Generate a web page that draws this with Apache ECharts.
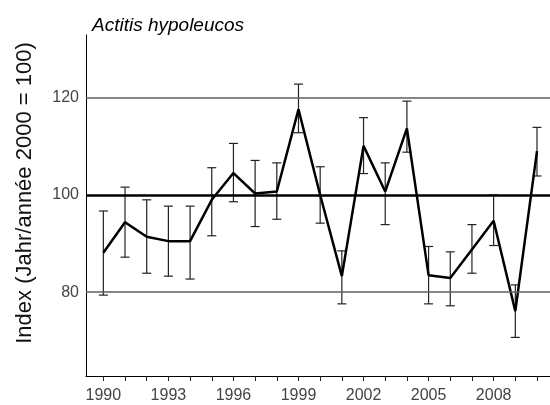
<!DOCTYPE html>
<html>
<head>
<meta charset="utf-8">
<script src="https://cdn.jsdelivr.net/npm/echarts@6/dist/echarts.min.js"></script>
<style>
  html, body { margin: 0; padding: 0; background: #fff; }
  #chart { width: 550px; height: 405px; }
</style>
</head>
<body>
<div id="chart"></div>
<script>
  // years and index values (2000 = 100)
  const years = [1990, 1991, 1992, 1993, 1994, 1995, 1996, 1997, 1998, 1999, 2000,
                 2001, 2002, 2003, 2004, 2005, 2006, 2007, 2008, 2009, 2010]
  const indexValues = [88.1, 94.4, 91.4, 90.5, 90.5, 99.0, 104.5, 100.3, 100.7, 117.6, 100.0,
                       83.3, 110.1, 100.7, 113.7, 83.5, 82.9, 88.8, 94.7, 76.1, 109.0]
  // error bars: lower and upper ends
  const lowerValues = [79.4, 87.2, 83.9, 83.3, 82.7, 91.6, 98.6, 93.5, 95.0, 112.8, 94.2,
                       77.6, 104.4, 93.9, 108.8, 77.6, 77.2, 83.9, 89.6, 70.7, 103.9]
  const upperValues = [96.7, 101.6, 99.0, 97.7, 97.7, 105.6, 110.6, 107.1, 106.6, 122.8, 105.8,
                       88.5, 115.9, 106.6, 119.3, 89.4, 88.3, 93.9, 100.0, 81.5, 113.9]
  // tick labels
  const xLabelYears = [1990, 1993, 1996, 1999, 2002, 2005, 2008]
  const yLabelValues = [80, 100, 120]
  const gridValues = [80, 120]
  const baseValue = 100

  const chart = echarts.init(document.getElementById('chart'))

  const lineData = years.map((y, i) => [y, indexValues[i]])
  const errData = years.map((y, i) => [y, lowerValues[i], upperValues[i]])

  const font = '"Liberation Sans", Arial, sans-serif'

  const option = {
    animation: false,
    backgroundColor: '#fff',
    textStyle: { fontFamily: font },
    title: {
      text: 'Actitis hypoleucos',
      left: 87,
      top: 11,
      textStyle: { fontSize: 19, fontStyle: 'italic', fontWeight: 'normal', color: '#000', fontFamily: font }
    },
    //纵轴标题单独画，位置好调
    graphic: [{
      type: 'text',
      x: 25,
      y: 193,
      rotation: Math.PI / 2,
      style: {
        text: 'Index (Jahr/année 2000 = 100)',
        font: '22px ' + font,
        fill: '#111',
        textAlign: 'center',
        textVerticalAlign: 'middle'
      }
    }],
    grid: { left: 86, right: 0, top: 35, bottom: 29, containLabel: false },
    xAxis: {
      type: 'value',
      min: 1989.2,
      max: 2010.6,
      splitLine: { show: false },
      axisLine: { lineStyle: { color: '#000', width: 1 } },
      axisTick: { show: true, customValues: years, length: 5, lineStyle: { color: '#222' } },
      axisLabel: {
        customValues: xLabelYears,
        formatter: v => String(v),
        fontSize: 16, color: '#444', margin: 12, fontFamily: font
      }
    },
    yAxis: {
      type: 'value',
      min: 62.76,
      max: 132.9,
      splitLine: { show: false },
      axisLine: { show: true, lineStyle: { color: '#000', width: 1 } },
      axisTick: { show: false },
      axisLabel: { customValues: yLabelValues, fontSize: 16, color: '#444', margin: 7, fontFamily: font }
    },
    series: [
      {
        // error bars
        type: 'custom',
        silent: true,
        z: 2,
        data: errData,
        renderItem(params, api) {
          const x = api.value(0)
          const lo = api.coord([x, api.value(1)])
          const hi = api.coord([x, api.value(2)])
          const cap = 4.5
          const st = { stroke: '#222', lineWidth: 1.2 }
          return {
            type: 'group',
            children: [
              { type: 'line', shape: { x1: lo[0], y1: lo[1], x2: hi[0], y2: hi[1] }, style: st },
              { type: 'line', shape: { x1: lo[0] - cap, y1: lo[1], x2: lo[0] + cap, y2: lo[1] }, style: st },
              { type: 'line', shape: { x1: hi[0] - cap, y1: hi[1], x2: hi[0] + cap, y2: hi[1] }, style: st }
            ]
          }
        }
      },
      {
        type: 'line',
        z: 3,
        data: lineData,
        symbol: 'none',
        lineStyle: { color: '#000', width: 2.5 },
        markLine: {
          silent: true,
          symbol: 'none',
          label: { show: false },
          data: gridValues.map(v => ({ yAxis: v, lineStyle: { color: '#5e5e5e', width: 1.5, type: 'solid' } }))
            .concat([{ yAxis: baseValue, lineStyle: { color: '#000', width: 2.5, type: 'solid' } }])
        }
      }
    ]
  }
  chart.setOption(option)
</script>
</body>
</html>
